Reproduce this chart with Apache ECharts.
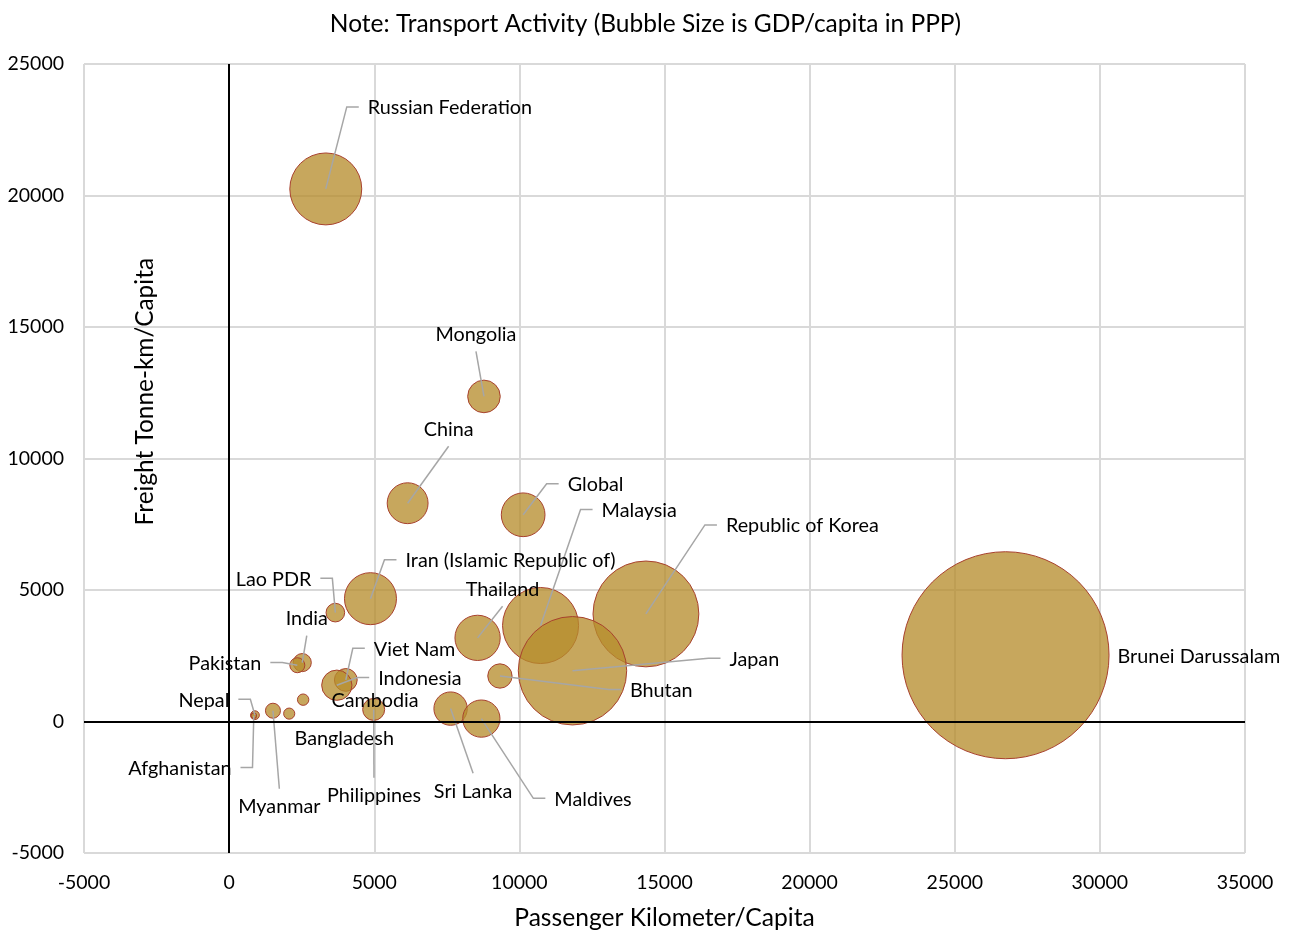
<!DOCTYPE html>
<html><head><meta charset="utf-8">
<script src="https://cdn.jsdelivr.net/npm/echarts@6/dist/echarts.min.js"></script>
<style>html,body{margin:0;padding:0;background:#fff}#c{width:1291px;height:936px}</style>
</head><body><div id="c"></div>
<script>
// ---- data ----
const countries = ['Russian Federation','Mongolia','China','Global','Malaysia','Republic of Korea','Japan','Bhutan','Thailand','Sri Lanka','Maldives','Brunei Darussalam','Iran (Islamic Republic of)','Lao PDR','India','Pakistan','Viet Nam','Indonesia','Cambodia','Bangladesh','Philippines','Myanmar','Nepal','Afghanistan'];
const passengerKm = [3330, 8780, 6150, 10130, 10730, 14360, 11830, 9330, 8560, 7630, 8690, 26750, 4870, 3660, 2520, 2350, 4020, 3710, 2550, 2070, 4980, 1510, 890, 850];
const freightTkm = [20250, 12360, 8300, 7860, 3650, 4090, 1930, 1730, 3180, 490, 110, 2520, 4670, 4140, 2240, 2140, 1580, 1380, 830, 300, 460, 410, 240, 220];
const gdpPerCapita = [27800, 12600, 15800, 16900, 29400, 40900, 41900, 9400, 17500, 12900, 14400, 80000, 20100, 7200, 7000, 5800, 8800, 11700, 4400, 4300, 8500, 5800, 3400, 2100];
const xTickRange = [-5000, 35000, 5000];
const yTickRange = [-5000, 25000, 5000];

// ---- label placement (pixel offsets from bubble centre; layout only) ----
const labelLayout = {
  'Russian Federation': {dx: 42, dy: -81, align: 'left', line: 'stubL'},
  'Mongolia': {dx: -8, dy: -62, align: 'center', line: 'below'},
  'China': {dx: 41, dy: -74, align: 'center', line: 'below'},
  'Global': {dx: 44.5, dy: -30, align: 'left', line: 'stubL'},
  'Malaysia': {dx: 61, dy: -115, align: 'left', line: 'stubL'},
  'Republic of Korea': {dx: 80, dy: -88, align: 'left', line: 'stubL'},
  'Japan': {dx: 157, dy: -11.5, align: 'left', line: 'stubL'},
  'Bhutan': {dx: 130, dy: 14.4, align: 'left', line: 'stubL'},
  'Thailand': {dx: 25, dy: -48.6, align: 'center', line: 'below'},
  'Sri Lanka': {dx: 22.5, dy: 82.7, align: 'center', line: 'above'},
  'Maldives': {dx: 73, dy: 80.7, align: 'left', line: 'stubL'},
  'Brunei Darussalam': {dx: 112, dy: 1, align: 'left', line: null},
  'Iran (Islamic Republic of)': {dx: 35, dy: -38, align: 'left', line: 'stubL'},
  'Lao PDR': {dx: -24, dy: -33.3, align: 'right', line: 'stubR'},
  'India': {dx: 4.5, dy: -44, align: 'center', line: 'below'},
  'Pakistan': {dx: -36, dy: -1.7, align: 'right', line: 'stubR'},
  'Viet Nam': {dx: 28, dy: -30.6, align: 'left', line: 'stubL'},
  'Indonesia': {dx: 41.4, dy: -6.7, align: 'left', line: 'stubL'},
  'Cambodia': {dx: 28.3, dy: 0.7, align: 'left', line: null},
  'Bangladesh': {dx: 5.3, dy: 25, align: 'left', line: null},
  'Philippines': {dx: 0.3, dy: 86.3, align: 'center', line: 'above'},
  'Myanmar': {dx: 6.4, dy: 96, align: 'center', line: 'above'},
  'Nepal': {dx: -25.6, dy: -15, align: 'right', line: 'stubR'},
  'Afghanistan': {dx: -22.3, dy: 52.8, align: 'right', line: 'stubR'}
};

const FONT = 'Lato';
const LABEL_SIZE = 19.8;
const maxGdp = Math.max.apply(null, gdpPerCapita);
const MAX_BUBBLE = 207;

const bubbleData = countries.map((n, i) => [passengerKm[i], freightTkm[i], gdpPerCapita[i], i]);

const chart = echarts.init(document.getElementById('c'), null, {renderer: 'canvas'});
chart.setOption({
  backgroundColor: '#fff',
  animation: false,
  title: {
    text: 'Note: Transport Activity (Bubble Size is GDP/capita in PPP)',
    left: 'center', top: 7,
    textStyle: {fontFamily: FONT, fontSize: 24.5, fontWeight: 'normal', color: '#000'}
  },
  grid: {left: 84, right: 46, top: 64, bottom: 81, containLabel: false},
  xAxis: {
    type: 'value', min: xTickRange[0], max: xTickRange[1], interval: xTickRange[2],
    name: 'Passenger Kilometer/Capita', nameLocation: 'middle', nameGap: 53,
    nameTextStyle: {fontFamily: FONT, fontSize: 24.6, color: '#000'},
    axisLine: {show: false}, axisTick: {show: false},
    axisLabel: {fontFamily: FONT, fontSize: 19.5, color: '#000', margin: 20, formatter: v => String(v)},
    splitLine: {show: true, lineStyle: {color: '#d9d9d9', width: 2}}
  },
  yAxis: {
    type: 'value', min: yTickRange[0], max: yTickRange[1], interval: yTickRange[2],
    axisLine: {show: false}, axisTick: {show: false},
    axisLabel: {fontFamily: FONT, fontSize: 19.5, color: '#000', margin: 20, formatter: v => String(v)},
    splitLine: {show: true, lineStyle: {color: '#d9d9d9', width: 2}}
  },
  graphic: [{
    type: 'text', left: 133, top: 258, rotation: Math.PI / 2,
    style: {text: 'Freight Tonne-km/Capita', fontFamily: FONT, fontSize: 24.4, fill: '#000'}
  }],
  series: [
    {
      type: 'scatter', z: 1, data: [], silent: true,
      markLine: {
        silent: true, symbol: 'none', animation: false,
        lineStyle: {color: '#000', width: 2, type: 'solid'},
        label: {show: false},
        data: [{xAxis: 0}, {yAxis: 0}]
      }
    },
    {
      type: 'scatter', z: 2,
      data: bubbleData,
      symbolSize: v => v[2] / maxGdp * MAX_BUBBLE,
      itemStyle: {color: 'rgba(182,140,44,0.77)', borderColor: '#a8412e', borderWidth: 1, opacity: 1}
    },
    {
      type: 'custom', z: 3, silent: true,
      data: bubbleData,
      renderItem: function (params, api) {
        const i = api.value(3);
        const c = api.coord([api.value(0), api.value(1)]);
        const L = labelLayout[countries[i]];
        const tx = c[0] + L.dx, ty = c[1] + L.dy;
        const children = [];
        let pts = null;
        if (L.line === 'stubL') pts = [[c[0], c[1]], [tx - 21, ty - 1], [tx - 9, ty - 1]];
        else if (L.line === 'stubR') pts = [[c[0], c[1]], [tx + 21, ty - 1], [tx + 9, ty - 1]];
        else if (L.line === 'below') pts = [[c[0], c[1]], [tx, ty + 17]];
        else if (L.line === 'above') pts = [[c[0], c[1]], [tx, ty - 18]];
        if (pts) children.push({type: 'polyline', shape: {points: pts}, style: {stroke: '#a6a6a6', lineWidth: 1.5, fill: null}});
        children.push({type: 'text', style: {text: countries[i], x: tx, y: ty, align: L.align, verticalAlign: 'middle', fontFamily: FONT, fontSize: LABEL_SIZE, fill: '#000'}});
        return {type: 'group', children: children};
      }
    }
  ]
});
</script></body></html>
